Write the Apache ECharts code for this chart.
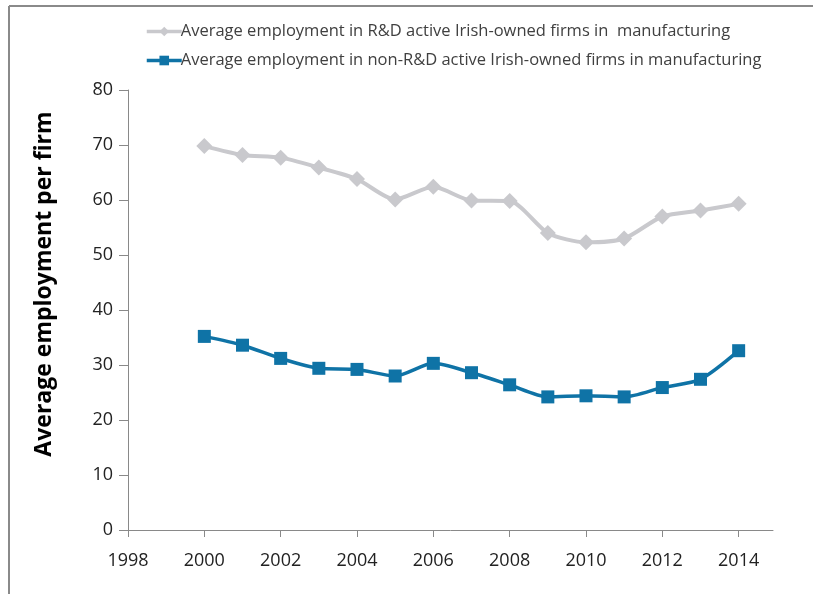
<!DOCTYPE html>
<html>
<head>
<meta charset="utf-8">
<script src="https://cdn.jsdelivr.net/npm/echarts@6/dist/echarts.min.js"></script>
<style>
html,body{margin:0;padding:0;background:#fff;}
#chart{width:813px;height:594px;}
</style>
</head>
<body>
<div id="chart"></div>
<script>
const years = [2000,2001,2002,2003,2004,2005,2006,2007,2008,2009,2010,2011,2012,2013,2014];
const rdActive = [69.8,68.2,67.7,65.9,63.8,60.1,62.4,59.9,59.8,54.0,52.3,53.0,57.0,58.1,59.3];
const nonRdActive = [35.2,33.6,31.2,29.4,29.2,28.0,30.3,28.6,26.4,24.2,24.4,24.2,25.9,27.4,32.6];
const xTicks = [1998,2000,2002,2004,2006,2008,2010,2012,2014];
const yTicks = [0,10,20,30,40,50,60,70,80];
const seriesNames = [
  'Average employment in R&D active Irish-owned firms in  manufacturing',
  'Average employment in non-R&D active Irish-owned firms in manufacturing'
];
const yTitle = 'Average employment per firm';

const pair = (xs, ys) => xs.map((x, i) => [x, ys[i]]);
const font = '"Open Sans", "Noto Sans", sans-serif';

const chart = echarts.init(document.getElementById('chart'), null, {renderer: 'canvas'});
chart.setOption({
  animation: false,
  backgroundColor: '#ffffff',
  textStyle: {fontFamily: font},
  graphic: [
    {type: 'line', shape: {x1: 9, y1: 6, x2: 813, y2: 6}, style: {stroke: '#8a8a8a', lineWidth: 2}},
    {type: 'line', shape: {x1: 9, y1: 6, x2: 9, y2: 594}, style: {stroke: '#8a8a8a', lineWidth: 2}}
  ],
  legend: {
    orient: 'vertical',
    left: 140,
    top: 18,
    itemWidth: 35,
    itemHeight: 12,
    itemGap: 12,
    textStyle: {fontFamily: font, fontSize: 16.5, color: '#404040', padding: [0, 0, 0, -6]},
    data: [
      {name: seriesNames[0], lineStyle: {width: 3.5}},
      {name: seriesNames[1], lineStyle: {width: 3.5}}
    ]
  },
  grid: {left: 128, right: 40, top: 90, bottom: 64, containLabel: false},
  xAxis: {
    type: 'value',
    min: 1998,
    max: 2014.9,
    interval: 2,
    splitLine: {show: false},
    axisLine: {lineStyle: {color: '#898989', width: 1}},
    axisTick: {show: true, length: 7, lineStyle: {color: '#898989'}, customValues: xTicks},
    axisLabel: {customValues: xTicks, color: '#222', fontSize: 18, fontFamily: font, margin: 22,
      formatter: v => String(v)}
  },
  yAxis: {
    type: 'value',
    min: 0,
    max: 80,
    interval: 10,
    name: yTitle,
    nameLocation: 'middle',
    nameGap: 72,
    nameTextStyle: {fontSize: 23, fontWeight: 'bold', color: '#000', fontFamily: font, padding: [0, 0, 0, 52]},
    splitLine: {show: false},
    axisLine: {show: true, lineStyle: {color: '#898989', width: 1}},
    axisTick: {show: true, length: 9, lineStyle: {color: '#898989'}, customValues: yTicks},
    axisLabel: {customValues: yTicks, color: '#222', fontSize: 18, fontFamily: font, margin: 15}
  },
  series: [
    {
      name: seriesNames[0],
      type: 'line',
      data: pair(years, rdActive),
      smooth: 0.25,
      symbol: 'diamond',
      symbolSize: 16,
      lineStyle: {color: '#c9c9cd', width: 4},
      itemStyle: {color: '#c9c9cd'}
    },
    {
      name: seriesNames[1],
      type: 'line',
      data: pair(years, nonRdActive),
      smooth: 0.25,
      symbol: 'rect',
      symbolSize: 13,
      lineStyle: {color: '#0f73a6', width: 3.5},
      itemStyle: {color: '#0f73a6'}
    }
  ]
});
</script>
</body>
</html>
